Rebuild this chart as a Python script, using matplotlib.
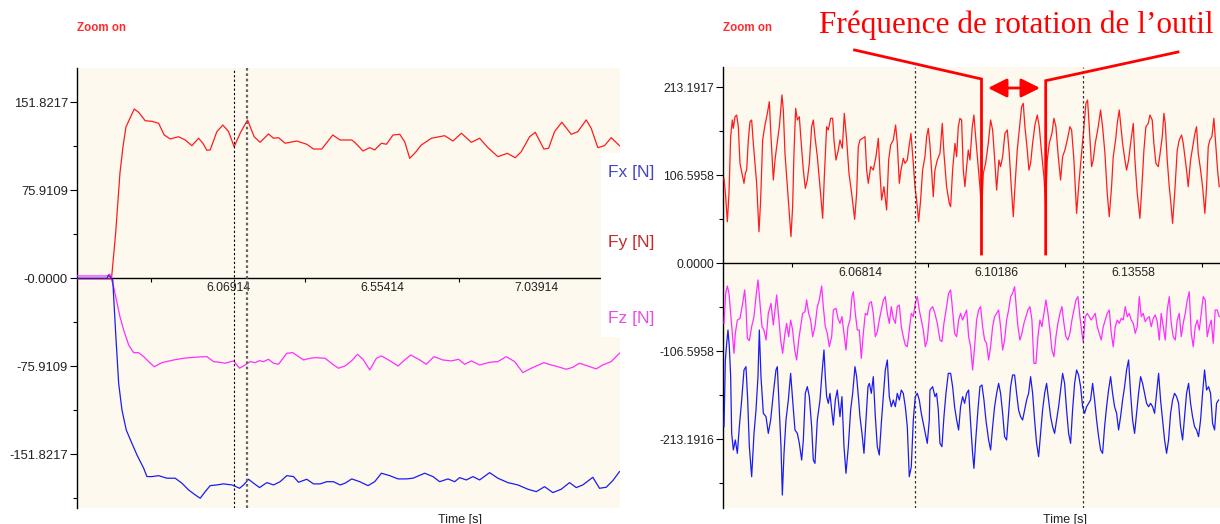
import numpy as np
import matplotlib
matplotlib.use("Agg")
import matplotlib.pyplot as plt
from matplotlib.patches import Rectangle, FancyArrowPatch, ArrowStyle
from matplotlib.lines import Line2D

plt.rcParams['font.family'] = ['Liberation Sans', 'DejaVu Sans']

W, H = 1220, 524

# ---------------- left panel: whole pass (time [s], force [N])
run_fy = [(5.592, -0.5), (5.7007, -0.5), (5.7139, 39.1), (5.7274, 90.8), (5.7369, 113.3), (5.7463, 130.5),
          (5.7725, 146.0), (5.7863, 143.2), (5.8071, 135.9), (5.8282, 135.4), (5.8493, 133.7), (5.8669, 123.6),
          (5.8858, 120.2), (5.9123, 122.1), (5.9331, 119.3), (5.9542, 114.4), (5.9753, 120.8), (5.9888, 116.5),
          (6.0014, 110.4), (6.0118, 110.7), (6.0329, 126.5), (6.0518, 132.2), (6.0698, 126.5), (6.0874, 113.5),
          (6.1063, 125.1), (6.1296, 136.6), (6.1504, 122.1), (6.1693, 117.3), (6.1957, 124.5), (6.2115, 120.8),
          (6.2272, 121.3), (6.2480, 116.5), (6.2849, 118.4), (6.3164, 115.6), (6.3375, 111.5), (6.3636, 111.5),
          (6.3982, 123.6), (6.4212, 119.3), (6.4581, 119.3), (6.4675, 117.3), (6.4937, 109.8), (6.5148, 112.7),
          (6.5305, 110.7), (6.5516, 116.5), (6.5674, 115.6), (6.5882, 123.6), (6.6093, 124.2), (6.6250, 117.8),
          (6.6408, 103.5), (6.6565, 107.8), (6.6776, 115.0), (6.7091, 120.8), (6.7510, 123.0), (6.7771, 118.4),
          (6.8036, 125.1), (6.8351, 117.3), (6.8612, 120.8), (6.8874, 112.7), (6.9188, 104.9), (6.9484, 107.8),
          (6.9736, 104.0), (6.9925, 109.2), (7.0187, 122.1), (7.0366, 125.9), (7.0637, 111.5), (7.0785, 112.1),
          (7.0974, 126.5), (7.1204, 134.6), (7.1500, 124.2), (7.1708, 126.5), (7.1972, 136.6), (7.2130, 129.4),
          (7.2338, 112.7), (7.2549, 114.4), (7.2760, 121.3), (7.3021, 114.4)]

run_fz = [(5.592, 2.0), (5.6865, 2.0), (5.6959, 3.5), (5.7073, -7.2), (5.7274, -33.1), (5.7391, -44.6),
          (5.7548, -57.5), (5.7706, -64.2), (5.7863, -64.2), (5.8021, -67.6), (5.8178, -71.9), (5.8354, -76.3),
          (5.8597, -72.8), (5.8965, -70.5), (5.9280, -69.0), (5.9646, -68.1), (6.0014, -67.6), (6.0225, -71.9),
          (6.0433, -72.5), (6.0591, -73.3), (6.0855, -71.3), (6.1044, -77.6), (6.1220, -74.8), (6.1378, -71.9),
          (6.1535, -72.8), (6.1674, -71.1), (6.1800, -71.9), (6.1957, -69.9), (6.2115, -73.3), (6.2272, -74.2),
          (6.2534, -64.7), (6.2723, -64.2), (6.3060, -70.5), (6.3268, -69.0), (6.3425, -68.5), (6.3740, -69.0),
          (6.3982, -74.2), (6.4162, -77.6), (6.4370, -75.7), (6.4581, -71.1), (6.4760, -65.6), (6.4937, -69.9),
          (6.5148, -79.1), (6.5359, -69.0), (6.5516, -67.0), (6.5778, -71.1), (6.6039, -75.7), (6.6250, -70.5),
          (6.6439, -66.2), (6.6691, -69.9), (6.6933, -74.2), (6.7173, -67.6), (6.7456, -70.5), (6.7721, -71.3),
          (6.7951, -69.9), (6.8140, -74.2), (6.8351, -71.3), (6.8612, -74.8), (6.8927, -72.5), (6.9188, -71.9),
          (6.9453, -67.6), (6.9714, -71.9), (6.9976, -81.4), (7.0240, -77.6), (7.0637, -72.8), (7.0870, -74.8),
          (7.1078, -76.3), (7.1343, -78.5), (7.1550, -76.8), (7.1761, -73.3), (7.2023, -75.7), (7.2287, -78.2),
          (7.2495, -74.8), (7.2760, -71.9), (7.3021, -64.7)]

run_fx = [(5.592, 0.0), (5.6865, 0.0), (5.6915, 2.6), (5.7047, -1.5), (5.7139, -47.4), (5.7233, -90.6),
          (5.7337, -113.6), (5.7473, -130.9), (5.7605, -139.5), (5.7810, -152.4), (5.8021, -163.9),
          (5.8125, -171.1), (5.8282, -171.1), (5.8493, -170.3), (5.8754, -172.5), (5.9016, -172.5),
          (5.9227, -176.8), (5.9438, -182.6), (5.9646, -186.9), (5.9803, -189.8), (5.9961, -184.1),
          (6.0118, -178.9), (6.0329, -178.3), (6.0540, -177.4), (6.0802, -178.3), (6.0937, -179.8),
          (6.1044, -181.2), (6.1170, -178.3), (6.1328, -173.4), (6.1485, -176.8), (6.1674, -180.6),
          (6.1904, -176.3), (6.2115, -178.3), (6.2323, -175.5), (6.2534, -170.3), (6.2745, -171.1),
          (6.2902, -176.0), (6.3164, -173.4), (6.3375, -177.4), (6.3583, -177.4), (6.3794, -175.5),
          (6.4004, -175.5), (6.4212, -178.3), (6.4370, -176.8), (6.4581, -173.1), (6.4833, -175.5),
          (6.5094, -178.9), (6.5305, -175.5), (6.5516, -168.2), (6.5778, -170.3), (6.6039, -173.1),
          (6.6303, -173.1), (6.6511, -172.5), (6.6880, -168.2), (6.7141, -171.1), (6.7352, -175.5),
          (6.7614, -173.1), (6.7825, -175.5), (6.7982, -172.0), (6.8193, -174.0), (6.8401, -171.1),
          (6.8612, -174.0), (6.8927, -167.7), (6.9188, -172.5), (6.9503, -176.3), (6.9818, -178.3),
          (7.0133, -182.0), (7.0398, -184.1), (7.0659, -179.8), (7.0921, -184.9), (7.1185, -182.0),
          (7.1446, -176.3), (7.1658, -180.6), (7.1865, -178.3), (7.2180, -171.7), (7.2391, -181.2),
          (7.2602, -180.3), (7.2810, -174.6), (7.3021, -166.8)]

run_yticks = [151.8217, 75.9109, 0.0, -75.9109, -151.8217]
run_ylabels = ['151.8217', '75.9109', '-0.0000', '-75.9109', '-151.8217']
run_xticks = [6.06914, 6.55414, 7.03914]
run_cursors = [6.0866, 6.1293]

# ---------------- right panel: zoom on a few tool revolutions
zoom_fy = [(6.03460, 102.9), (6.03501, 80.7), (6.03542, 50.4), (6.03583, 84.8), (6.03624, 153.4), (6.03665, 173.6),
           (6.03690, 163.5), (6.03731, 177.6), (6.03772, 179.6), (6.03813, 165.5), (6.03854, 121.1), (6.03920, 104.9),
           (6.03953, 96.9), (6.03986, 109.0), (6.04019, 113.0), (6.04060, 149.4), (6.04101, 171.6), (6.04142, 173.6),
           (6.04183, 145.3), (6.04265, 96.9), (6.04323, 38.3), (6.04364, 76.7), (6.04413, 149.4), (6.04471, 167.5),
           (6.04529, 181.7), (6.04578, 195.8), (6.04619, 153.4), (6.04677, 100.9), (6.04718, 125.1), (6.04759, 141.3),
           (6.04825, 165.5), (6.04890, 203.9), (6.04923, 185.7), (6.04964, 133.2), (6.05047, 76.7), (6.05112, 32.3),
           (6.05153, 68.6), (6.05186, 133.2), (6.05228, 187.7), (6.05269, 173.6), (6.05318, 177.6), (6.05359, 149.4),
           (6.05417, 113.0), (6.05466, 90.8), (6.05515, 100.9), (6.05565, 121.1), (6.05622, 165.5), (6.05663, 173.6),
           (6.05704, 153.4), (6.05762, 129.2), (6.05828, 92.8), (6.05894, 54.5), (6.05935, 104.9), (6.05992, 165.5),
           (6.06033, 161.5), (6.06091, 175.6), (6.06140, 175.6), (6.06173, 149.4), (6.06222, 125.1), (6.06280, 137.2),
           (6.06321, 149.4), (6.06379, 139.3), (6.06428, 181.7), (6.06486, 149.4), (6.06543, 109.0), (6.06609, 84.8),
           (6.06683, 53.3), (6.06732, 84.8), (6.06773, 141.3), (6.06814, 149.4), (6.06880, 151.4), (6.06938, 153.4),
           (6.06979, 113.0), (6.07020, 96.9), (6.07078, 117.1), (6.07143, 113.0), (6.07209, 129.2), (6.07267, 151.4),
           (6.07308, 109.0), (6.07349, 76.7), (6.07406, 92.8), (6.07472, 64.6), (6.07522, 125.1), (6.07571, 143.3),
           (6.07637, 149.4), (6.07694, 167.5), (6.07735, 145.3), (6.07785, 96.9), (6.07826, 113.0), (6.07883, 127.2),
           (6.07924, 121.1), (6.07982, 125.1), (6.08031, 143.3), (6.08072, 157.4), (6.08130, 121.1), (6.08171, 92.8),
           (6.08212, 76.7), (6.08262, 50.4), (6.08311, 76.7), (6.08360, 113.0), (6.08418, 129.2), (6.08459, 153.4),
           (6.08500, 163.5), (6.08541, 143.3), (6.08582, 113.0), (6.08623, 80.7), (6.08664, 113.0), (6.08722, 125.1),
           (6.08788, 133.2), (6.08845, 169.5), (6.08886, 133.2), (6.08952, 92.8), (6.09018, 72.6), (6.09051, 68.6),
           (6.09100, 113.0), (6.09158, 145.3), (6.09199, 129.2), (6.09240, 165.5), (6.09281, 175.6), (6.09322, 173.6),
           (6.09363, 113.0), (6.09404, 92.8), (6.09446, 117.1), (6.09487, 137.2), (6.09528, 125.1), (6.09585, 165.5),
           (6.09626, 179.6), (6.09668, 153.4), (6.09717, 125.1), (6.09774, 92.8), (6.09816, 60.5), (6.09857, 109.0),
           (6.09914, 121.1), (6.09980, 145.3), (6.10038, 173.6), (6.10087, 161.5), (6.10128, 133.2), (6.10186, 88.8),
           (6.10243, 125.1), (6.10284, 117.1), (6.10334, 129.2), (6.10391, 157.4), (6.10449, 161.5), (6.10498, 133.2),
           (6.10547, 92.8), (6.10597, 56.5), (6.10638, 92.8), (6.10695, 137.2), (6.10761, 169.5), (6.10802, 189.7),
           (6.10843, 193.8), (6.10884, 165.5), (6.10942, 137.2), (6.10983, 113.0), (6.11024, 121.1), (6.11074, 145.3),
           (6.11131, 167.5), (6.11189, 179.6), (6.11238, 165.5), (6.11296, 133.2), (6.11353, 104.9), (6.11394, 72.6),
           (6.11435, 125.1), (6.11485, 145.3), (6.11550, 157.4), (6.11600, 175.6), (6.11649, 165.5), (6.11707, 129.2),
           (6.11764, 100.9), (6.11814, 129.2), (6.11871, 137.2), (6.11929, 149.4), (6.11994, 165.5), (6.12036, 161.5),
           (6.12093, 125.1), (6.12159, 60.5), (6.12216, 96.9), (6.12282, 133.2), (6.12340, 165.5), (6.12389, 193.8),
           (6.12430, 197.8), (6.12471, 165.5), (6.12529, 117.1), (6.12570, 125.1), (6.12619, 145.3), (6.12693, 165.5),
           (6.12751, 185.7), (6.12800, 165.5), (6.12858, 133.2), (6.12915, 84.8), (6.12965, 56.5), (6.13022, 92.8),
           (6.13063, 129.2), (6.13121, 149.4), (6.13162, 169.5), (6.13211, 185.7), (6.13252, 165.5), (6.13294, 145.3),
           (6.13351, 125.1), (6.13392, 113.0), (6.13442, 125.1), (6.13491, 145.3), (6.13557, 169.5), (6.13598, 125.1),
           (6.13655, 84.8), (6.13721, 54.5), (6.13770, 92.8), (6.13820, 137.2), (6.13869, 165.5), (6.13927, 169.5),
           (6.13968, 179.6), (6.14025, 173.6), (6.14066, 145.3), (6.14116, 121.1), (6.14173, 117.1), (6.14214, 131.2),
           (6.14272, 153.4), (6.14313, 181.7), (6.14346, 169.5), (6.14395, 125.1), (6.14445, 92.8), (6.14478, 76.7),
           (6.14527, 48.4), (6.14584, 88.8), (6.14642, 137.2), (6.14691, 149.4), (6.14749, 155.4), (6.14790, 145.3),
           (6.14831, 129.2), (6.14872, 113.0), (6.14913, 92.8), (6.14971, 125.1), (6.15037, 145.3), (6.15078, 157.4),
           (6.15119, 165.5), (6.15160, 133.2), (6.15218, 113.0), (6.15267, 92.8), (6.15324, 60.5), (6.15366, 92.8),
           (6.15407, 141.3), (6.15448, 149.4), (6.15497, 153.4), (6.15546, 175.6), (6.15596, 141.3), (6.15637, 113.0),
           (6.15678, 92.8)]

zoom_fz = [(6.03460, -72.7), (6.03501, -36.4), (6.03542, -27.5), (6.03583, -36.4), (6.03624, -60.6), (6.03674, -88.9),
           (6.03706, -109.1), (6.03739, -84.8), (6.03789, -68.7), (6.03854, -66.7), (6.03920, -48.5), (6.03970, -32.3),
           (6.04002, -52.5), (6.04035, -90.9), (6.04085, -93.7), (6.04142, -76.8), (6.04200, -64.6), (6.04249, -40.4),
           (6.04298, -20.2), (6.04348, -48.5), (6.04397, -76.8), (6.04446, -80.8), (6.04496, -92.9), (6.04553, -60.6),
           (6.04619, -48.5), (6.04677, -74.7), (6.04718, -56.6), (6.04759, -38.4), (6.04808, -64.6), (6.04858, -92.9),
           (6.04907, -109.1), (6.04964, -84.8), (6.05006, -72.7), (6.05055, -88.9), (6.05104, -68.7), (6.05153, -80.8),
           (6.05203, -105.0), (6.05252, -117.1), (6.05302, -92.9), (6.05351, -76.8), (6.05400, -60.6), (6.05458, -58.6),
           (6.05499, -44.5), (6.05548, -60.6), (6.05598, -68.7), (6.05647, -88.9), (6.05704, -76.8), (6.05762, -52.5),
           (6.05811, -44.5), (6.05869, -27.5), (6.05910, -52.5), (6.05959, -76.8), (6.06009, -84.8), (6.06058, -101.0),
           (6.06116, -88.9), (6.06157, -56.6), (6.06222, -54.5), (6.06272, -66.7), (6.06321, -72.7), (6.06370, -64.6),
           (6.06420, -84.8), (6.06469, -105.0), (6.06518, -76.8), (6.06568, -68.7), (6.06617, -40.4), (6.06650, -34.4),
           (6.06699, -60.6), (6.06749, -80.8), (6.06798, -80.8), (6.06847, -115.1), (6.06897, -84.8), (6.06946, -60.6),
           (6.06995, -62.6), (6.07045, -48.5), (6.07094, -46.5), (6.07143, -60.6), (6.07193, -88.9), (6.07242, -82.8),
           (6.07291, -68.7), (6.07341, -56.6), (6.07390, -44.5), (6.07439, -40.4), (6.07489, -60.6), (6.07538, -72.7),
           (6.07587, -52.5), (6.07637, -66.7), (6.07686, -72.7), (6.07735, -52.5), (6.07785, -50.5), (6.07834, -76.8),
           (6.07883, -88.9), (6.07933, -99.0), (6.07982, -101.0), (6.08031, -80.8), (6.08081, -60.6), (6.08130, -64.6),
           (6.08179, -48.5), (6.08229, -40.4), (6.08278, -56.6), (6.08327, -68.7), (6.08377, -80.8), (6.08426, -101.0),
           (6.08475, -92.9), (6.08525, -64.6), (6.08541, -56.6), (6.08607, -52.5), (6.08664, -60.6), (6.08722, -72.7),
           (6.08788, -92.9), (6.08837, -94.9), (6.08886, -72.7), (6.08952, -52.5), (6.09001, -36.4), (6.09051, -32.3),
           (6.09100, -56.6), (6.09149, -84.8), (6.09199, -88.9), (6.09248, -68.7), (6.09297, -60.6), (6.09347, -68.7),
           (6.09396, -62.6), (6.09446, -56.6), (6.09495, -88.9), (6.09544, -101.0), (6.09593, -129.2), (6.09643, -101.0),
           (6.09692, -68.7), (6.09741, -56.6), (6.09791, -52.5), (6.09840, -76.8), (6.09889, -92.9), (6.09939, -96.9),
           (6.09988, -117.1), (6.10038, -101.0), (6.10087, -76.8), (6.10136, -64.6), (6.10186, -60.6), (6.10235, -56.6),
           (6.10284, -76.8), (6.10334, -105.0), (6.10383, -92.9), (6.10432, -68.7), (6.10482, -56.6), (6.10531, -40.4),
           (6.10580, -36.4), (6.10630, -28.3), (6.10662, -48.5), (6.10712, -76.8), (6.10761, -92.9), (6.10810, -84.8),
           (6.10860, -72.7), (6.10909, -64.6), (6.10958, -56.6), (6.11008, -52.5), (6.11057, -68.7), (6.11106, -121.2),
           (6.11156, -121.2), (6.11205, -88.9), (6.11254, -68.7), (6.11304, -76.8), (6.11353, -60.6), (6.11402, -44.5),
           (6.11452, -60.6), (6.11501, -80.8), (6.11550, -105.0), (6.11600, -113.1), (6.11649, -88.9), (6.11698, -72.7),
           (6.11748, -60.6), (6.11797, -52.5), (6.11846, -72.7), (6.11896, -88.9), (6.11945, -92.9), (6.11994, -84.8),
           (6.12044, -68.7), (6.12093, -56.6), (6.12142, -44.5), (6.12192, -40.4), (6.12241, -64.6), (6.12290, -84.8),
           (6.12323, -94.9), (6.12373, -64.6), (6.12422, -60.6), (6.12471, -64.6), (6.12521, -68.7), (6.12570, -64.6),
           (6.12619, -60.6), (6.12669, -76.8), (6.12718, -84.8), (6.12767, -92.9), (6.12817, -76.8), (6.12866, -68.7),
           (6.12915, -60.6), (6.12965, -56.6), (6.13014, -84.8), (6.13063, -101.0), (6.13113, -76.8), (6.13162, -68.7),
           (6.13211, -72.7), (6.13261, -66.7), (6.13310, -68.7), (6.13359, -52.5), (6.13409, -64.6), (6.13458, -60.6),
           (6.13507, -68.7), (6.13557, -72.7), (6.13606, -84.8), (6.13655, -76.8), (6.13705, -40.4), (6.13754, -64.6),
           (6.13803, -60.6), (6.13853, -70.7), (6.13902, -66.7), (6.13951, -64.6), (6.14001, -76.8), (6.14050, -66.7),
           (6.14099, -62.6), (6.14149, -70.7), (6.14198, -92.9), (6.14247, -60.6), (6.14297, -76.8), (6.14346, -92.9),
           (6.14395, -56.6), (6.14445, -40.4), (6.14494, -72.7), (6.14543, -88.9), (6.14593, -92.9), (6.14642, -68.7),
           (6.14691, -60.6), (6.14741, -88.9), (6.14790, -72.7), (6.14839, -60.6), (6.14889, -44.5), (6.14938, -34.4),
           (6.14987, -84.8), (6.15037, -101.0), (6.15086, -76.8), (6.15135, -68.7), (6.15185, -80.8), (6.15234, -60.6),
           (6.15283, -40.4), (6.15333, -44.5), (6.15382, -88.9), (6.15431, -76.8), (6.15481, -68.7), (6.15530, -96.9),
           (6.15579, -56.6), (6.15629, -56.6), (6.15678, -64.6)]

zoom_fx = [(6.03460, -197.9), (6.03493, -117.1), (6.03526, -96.9), (6.03558, -80.8), (6.03591, -101.0), (6.03624, -137.3),
           (6.03649, -206.0), (6.03690, -226.1), (6.03739, -214.0), (6.03789, -230.2), (6.03838, -197.9), (6.03896, -165.6),
           (6.03953, -129.2), (6.04002, -125.2), (6.04044, -165.6), (6.04085, -222.1), (6.04142, -258.5), (6.04200, -206.0),
           (6.04249, -177.7), (6.04298, -137.3), (6.04331, -80.8), (6.04372, -137.3), (6.04430, -181.7), (6.04496, -185.8),
           (6.04553, -206.0), (6.04611, -189.8), (6.04677, -157.5), (6.04742, -129.2), (6.04775, -125.2), (6.04825, -177.7),
           (6.04866, -222.1), (6.04899, -280.7), (6.04940, -230.2), (6.04989, -189.8), (6.05047, -165.6), (6.05104, -133.3),
           (6.05153, -165.6), (6.05211, -201.9), (6.05269, -206.0), (6.05318, -218.1), (6.05376, -238.3), (6.05417, -214.0),
           (6.05466, -157.5), (6.05515, -149.4), (6.05565, -161.5), (6.05622, -197.9), (6.05663, -238.3), (6.05704, -242.3),
           (6.05762, -189.8), (6.05828, -165.6), (6.05877, -133.3), (6.05926, -105.0), (6.05959, -137.3), (6.05992, -161.5),
           (6.06033, -169.6), (6.06074, -157.5), (6.06116, -177.7), (6.06157, -195.9), (6.06206, -165.6), (6.06255, -153.5),
           (6.06321, -185.8), (6.06370, -161.5), (6.06420, -222.1), (6.06469, -254.4), (6.06527, -222.1), (6.06584, -177.7),
           (6.06634, -157.5), (6.06691, -125.2), (6.06732, -137.3), (6.06782, -165.6), (6.06814, -185.8), (6.06864, -206.0),
           (6.06913, -230.2), (6.06962, -189.8), (6.07012, -149.4), (6.07045, -145.4), (6.07094, -157.5), (6.07143, -137.3),
           (6.07193, -185.8), (6.07242, -222.1), (6.07291, -232.2), (6.07341, -193.8), (6.07390, -161.5), (6.07439, -129.2),
           (6.07489, -117.1), (6.07538, -161.5), (6.07587, -173.7), (6.07637, -165.6), (6.07686, -173.7), (6.07735, -157.5),
           (6.07785, -165.6), (6.07834, -153.5), (6.07883, -157.5), (6.07933, -173.7), (6.07982, -197.9), (6.08031, -258.5),
           (6.08081, -246.3), (6.08130, -189.8), (6.08179, -161.5), (6.08229, -157.5), (6.08278, -165.6), (6.08327, -181.7),
           (6.08377, -193.8), (6.08426, -206.0), (6.08475, -218.1), (6.08525, -189.8), (6.08541, -153.5), (6.08607, -149.4),
           (6.08664, -161.5), (6.08705, -157.5), (6.08747, -177.7), (6.08788, -218.1), (6.08837, -222.1), (6.08886, -185.8),
           (6.08936, -157.5), (6.08993, -133.3), (6.09051, -133.3), (6.09100, -149.4), (6.09149, -173.7), (6.09199, -189.8),
           (6.09248, -201.9), (6.09297, -173.7), (6.09347, -161.5), (6.09396, -169.6), (6.09446, -157.5), (6.09495, -153.5),
           (6.09544, -193.8), (6.09593, -230.2), (6.09626, -248.4), (6.09676, -210.0), (6.09725, -177.7), (6.09774, -149.4),
           (6.09824, -147.4), (6.09873, -165.6), (6.09922, -189.8), (6.09988, -214.0), (6.10038, -226.1), (6.10087, -197.9),
           (6.10136, -173.7), (6.10186, -157.5), (6.10235, -145.4), (6.10284, -157.5), (6.10334, -181.7), (6.10383, -210.0),
           (6.10432, -214.0), (6.10482, -181.7), (6.10531, -149.4), (6.10580, -135.3), (6.10630, -135.3), (6.10679, -157.5),
           (6.10728, -177.7), (6.10778, -185.8), (6.10827, -189.8), (6.10876, -177.7), (6.10926, -165.6), (6.10975, -157.5),
           (6.11024, -137.3), (6.11074, -157.5), (6.11123, -189.8), (6.11172, -218.1), (6.11222, -234.2), (6.11271, -206.0),
           (6.11320, -177.7), (6.11370, -157.5), (6.11419, -145.4), (6.11468, -165.6), (6.11518, -185.8), (6.11567, -197.9),
           (6.11616, -206.0), (6.11666, -189.8), (6.11715, -173.7), (6.11764, -153.5), (6.11814, -133.3), (6.11863, -145.4),
           (6.11912, -177.7), (6.11962, -206.0), (6.12011, -218.1), (6.12060, -177.7), (6.12110, -145.4), (6.12159, -129.2),
           (6.12208, -135.3), (6.12258, -149.4), (6.12307, -173.7), (6.12356, -181.7), (6.12406, -173.7), (6.12455, -169.6),
           (6.12504, -165.6), (6.12554, -145.4), (6.12603, -165.6), (6.12652, -189.8), (6.12702, -210.0), (6.12751, -226.1),
           (6.12800, -230.2), (6.12850, -197.9), (6.12899, -173.7), (6.12948, -153.5), (6.12998, -137.3), (6.13047, -157.5),
           (6.13096, -173.7), (6.13146, -181.7), (6.13195, -201.9), (6.13244, -185.8), (6.13294, -165.6), (6.13343, -149.4),
           (6.13392, -129.2), (6.13442, -117.1), (6.13491, -157.5), (6.13540, -189.8), (6.13590, -206.0), (6.13639, -181.7),
           (6.13688, -157.5), (6.13738, -137.3), (6.13787, -145.4), (6.13836, -157.5), (6.13886, -169.6), (6.13935, -173.7),
           (6.13984, -169.6), (6.14034, -173.7), (6.14083, -181.7), (6.14132, -157.5), (6.14182, -133.3), (6.14231, -165.6),
           (6.14280, -189.8), (6.14330, -214.0), (6.14379, -230.2), (6.14428, -214.0), (6.14478, -181.7), (6.14527, -165.6),
           (6.14576, -157.5), (6.14626, -161.5), (6.14675, -169.6), (6.14724, -197.9), (6.14774, -214.0), (6.14823, -185.8),
           (6.14872, -157.5), (6.14922, -145.4), (6.14971, -169.6), (6.15020, -185.8), (6.15070, -197.9), (6.15119, -201.9),
           (6.15168, -210.0), (6.15218, -189.8), (6.15267, -157.5), (6.15316, -129.2), (6.15366, -153.5), (6.15415, -149.4),
           (6.15464, -157.5), (6.15514, -193.8), (6.15563, -201.9), (6.15612, -169.6), (6.15662, -165.6)]

zoom_yticks = [213.1917, 106.5958, 0.0, -106.5958, -213.1916]
zoom_ylabels = ['213.1917', '106.5958', '0.0000', '-106.5958', '-213.1916']
zoom_xticks = [6.06814, 6.10186, 6.13558]
zoom_cursors = [6.08171, 6.12323]

RED, MAG, BLUE = '#ff1c1c', '#ff2eff', '#1c1cf2'
BG = '#fdf9ee'


def fpos(x, y):
    # figure pixel (from top-left) -> figure fraction
    return x / W, 1 - y / H


def style(ax, yticks, ylabels, xticks, xminor, ysize):
    ax.set_facecolor(BG)
    for s in ('top', 'right'):
        ax.spines[s].set_visible(False)
    ax.spines['bottom'].set_position(('data', 0))
    ax.spines['bottom'].set_linewidth(1.0)
    ax.spines['left'].set_linewidth(1.0)
    ax.set_yticks(yticks)
    ax.set_yticklabels(ylabels)
    ystep = yticks[0] - yticks[1]
    ax.set_yticks([v - ystep / 2 for v in yticks], minor=True)
    ax.set_xticks(xticks)
    ax.set_xticklabels(['%.5f' % v for v in xticks])
    ax.set_xticks(xminor, minor=True)
    ax.tick_params(axis='y', which='major', length=5, width=0.8, pad=1.5, labelsize=ysize, labelcolor='#222222')
    ax.tick_params(axis='y', which='minor', length=3, width=0.8)
    ax.tick_params(axis='x', which='major', length=0, pad=3, labelsize=8.7, labelcolor='#222222')
    ax.tick_params(axis='x', which='minor', length=3, width=0.8)


fig = plt.figure(figsize=(W / 100, H / 100), dpi=100)

# left panel
axL = fig.add_axes([77 / W, 16 / H, 543 / W, 440 / H])
for data, c in ((run_fy, RED), (run_fz, MAG), (run_fx, BLUE)):
    t, v = np.array(data).T
    axL.plot(t, v, color=c, lw=0.9, zorder=3)
axL.set_xlim(5.592, 7.3037)
axL.set_ylim(-198.2, 181.4)
style(axL, run_yticks, run_ylabels, run_xticks, [5.82664, 6.31164, 6.79664], 9.4)
axL.axvline(run_cursors[0], color='black', lw=0.8, ls=(0, (2, 2)), zorder=4)
axL.axvline(run_cursors[1], color='#666666', lw=1.6, ls=(0, (1.2, 1.2)), zorder=4)

# right panel
axR = fig.add_axes([723 / W, 16 / H, 497 / W, 441 / H])
for data, c in ((zoom_fy, RED), (zoom_fz, MAG), (zoom_fx, BLUE)):
    t, v = np.array(data).T
    axR.plot(t, v, color=c, lw=0.9, zorder=3)
axR.set_xlim(6.03435, 6.15697)
axR.set_ylim(-296.4, 237.8)
style(axR, zoom_yticks, zoom_ylabels, zoom_xticks, [6.05128, 6.08500, 6.11872, 6.15244], 8.7)
for c in zoom_cursors:
    axR.axvline(c, color='#333333', lw=0.9, ls=(0, (2, 2)), zorder=4)

# legend box of the left panel
x0, y0 = fpos(601, 337)
fig.add_artist(Rectangle((x0, y0), 59 / W, 184 / H, transform=fig.transFigure,
                         facecolor='white', edgecolor='none', zorder=10))
for name, c, y in (('Fx [N]', '#4646c0', 172), ('Fy [N]', '#c42a2a', 243), ('Fz [N]', '#e64ee6', 318)):
    fig.text(*fpos(631, y), name, color=c, fontsize=12.5, ha='center', va='center',
             family=['Liberation Sans', 'DejaVu Sans'], zorder=11)

# header / footer texts
for x in (77, 723):
    fig.text(*fpos(x, 28), 'Zoom on', color='#ff2a2a', fontsize=8.3, fontweight='bold', va='center')
for x in (460, 1065):
    fig.text(*fpos(x, 514), 'Time [s]', color='#222222', fontsize=9, ha='center', va='top')

# annotation: tool rotation period
fig.text(*fpos(1016, 33), 'Fréquence de rotation de l\u2019outil', color='red', fontsize=22.5,
         ha='center', va='baseline', family=['Liberation Serif', 'DejaVu Serif'])
for xs, ys in (([854.6, 981.5, 981.5], [50, 79, 254]), ([1178, 1045.7, 1045.7], [52, 80.7, 254])):
    fig.add_artist(Line2D([x / W for x in xs], [1 - y / H for y in ys], transform=fig.transFigure,
                          color='red', lw=2, solid_joinstyle='miter', zorder=12))
fig.add_artist(FancyArrowPatch(fpos(988, 88), fpos(1040, 88), transform=fig.transFigure,
                               arrowstyle=ArrowStyle('<|-|>', head_length=1.0, head_width=0.5),
                               mutation_scale=11.5, color='red', lw=2, shrinkA=0, shrinkB=0, zorder=12))

fig.savefig('out.png', dpi=100)
